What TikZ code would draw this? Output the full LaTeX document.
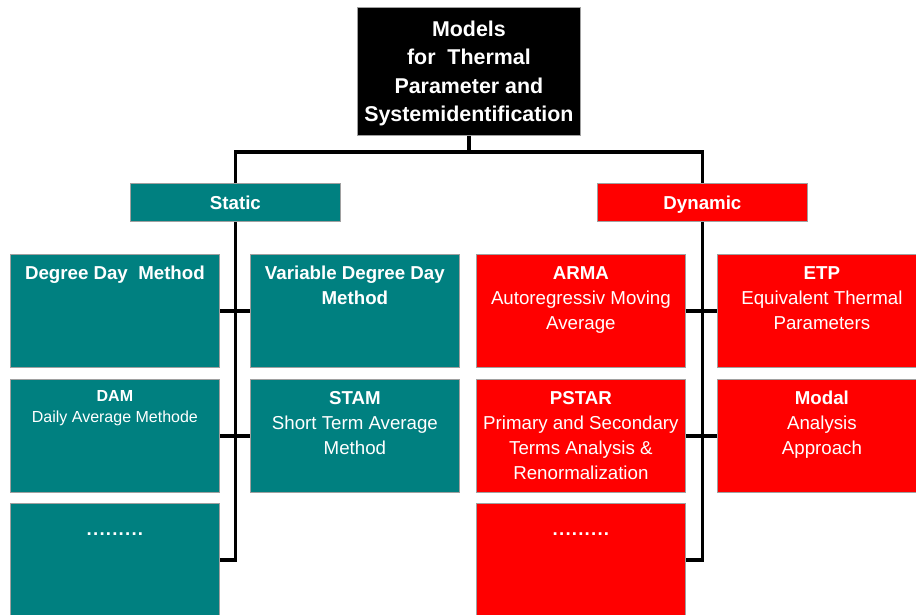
\documentclass[tikz,border=0pt]{standalone}
\usepackage{fontspec}
\setmainfont{Liberation Sans}
\definecolor{tealc}{HTML}{008080}
\definecolor{redc}{HTML}{FF0000}
\definecolor{edgec}{HTML}{A0A0A0}
\newcommand{\mydotrow}{.\kern1.2pt.\kern1.2pt.\kern1.2pt.\kern1.2pt.\kern1.2pt.\kern1.2pt.\kern1.2pt.\kern1.2pt.}
\begin{document}
\begin{tikzpicture}[x=1pt,y=-1pt,
  box/.style={draw=edgec,line width=0.8pt,anchor=north west,inner sep=0pt},
  tbox/.style={box,fill=tealc,minimum width=209pt,minimum height=113pt},
  rbox/.style={box,fill=redc,minimum width=209pt,minimum height=113pt},
  head/.style={box,minimum width=210pt,minimum height=38pt,text height=13.4pt,text depth=0pt,text=white,font=\fontsize{18.7}{25}\selectfont\bfseries},
  conn/.style={line width=3.5pt},
  txt/.style={text=white,align=center,anchor=north,inner sep=0pt,font=\fontsize{18.7}{25}\selectfont},
  small/.style={text=white,align=center,anchor=north,inner sep=0pt,font=\fontsize{16}{21}\selectfont}]
\useasboundingbox (0,0) rectangle (916,614);
% top
\node[box,fill=black,minimum width=223pt,minimum height=128pt] (top) at (357,7) {};
\node[txt,font=\fontsize{21.4}{28.5}\selectfont\bfseries] (toptxt) at ([yshift=-13.3pt]top.north)
  {Models\\for\ \ Thermal\\Parameter and\\Systemidentification};
% headers
\node[head,fill=tealc] (static) at (130,183) {Static};
\node[head,fill=redc] (dynamic) at (597,183) {Dynamic};
% static boxes
\node[tbox] (s1) at (10,254) {};
\node[tbox] (s2) at (250,254) {};
\node[tbox] (s3) at (10,379) {};
\node[tbox] (s4) at (250,379) {};
\node[tbox] (s5) at (10,503) {};
% dynamic boxes
\node[rbox] (d1) at (476,254) {};
\node[rbox] (d2) at (717,254) {};
\node[rbox] (d3) at (476,379) {};
\node[rbox] (d4) at (717,379) {};
\node[rbox] (d5) at (476,503) {};
% texts
\node[txt] (s1t) at ([yshift=-12pt]s1.north) {\bfseries Degree Day\ \ Method};
\node[txt] (s2t) at ([yshift=-12pt]s2.north) {\bfseries Variable Degree Day\\\bfseries Method};
\node[small] (s3t) at ([yshift=-11pt]s3.north) {\bfseries DAM\\Daily Average Methode};
\node[txt] (s4t) at ([yshift=-12pt]s4.north) {\bfseries STAM\\Short Term Average\\Method};
\node[txt,anchor=base] (s5t) at ([yshift=-32pt]s5.north) {\bfseries\mydotrow};
\node[txt] (d1t) at ([yshift=-12pt]d1.north) {\bfseries ARMA\\Autoregressiv Moving\\Average};
\node[txt] (d2t) at ([yshift=-12pt]d2.north) {\bfseries ETP\\Equivalent Thermal\\Parameters};
\node[txt] (d3t) at ([yshift=-12pt]d3.north) {\bfseries PSTAR\\Primary and Secondary\\Terms Analysis \&\\Renormalization};
\node[txt] (d4t) at ([yshift=-12pt]d4.north) {\bfseries Modal\\Analysis\\Approach};
\node[txt,anchor=base] (d5t) at ([yshift=-32pt]d5.north) {\bfseries\mydotrow};
% connectors
\coordinate (bar) at (0,152);
\draw[conn] (top.south) -- (top.south |- bar);
\draw[conn] (static.north) -- (static.north |- bar) -- (dynamic.north |- bar) -- (dynamic.north);
\draw[conn] (static.south) -- (static.south |- s5.east) -- (s5.east);
\draw[conn] (s1.east) -- (s2.west);
\draw[conn] (s3.east) -- (s4.west);
\draw[conn] (dynamic.south) -- (dynamic.south |- d5.east) -- (d5.east);
\draw[conn] (d1.east) -- (d2.west);
\draw[conn] (d3.east) -- (d4.west);
\end{tikzpicture}
\end{document}
